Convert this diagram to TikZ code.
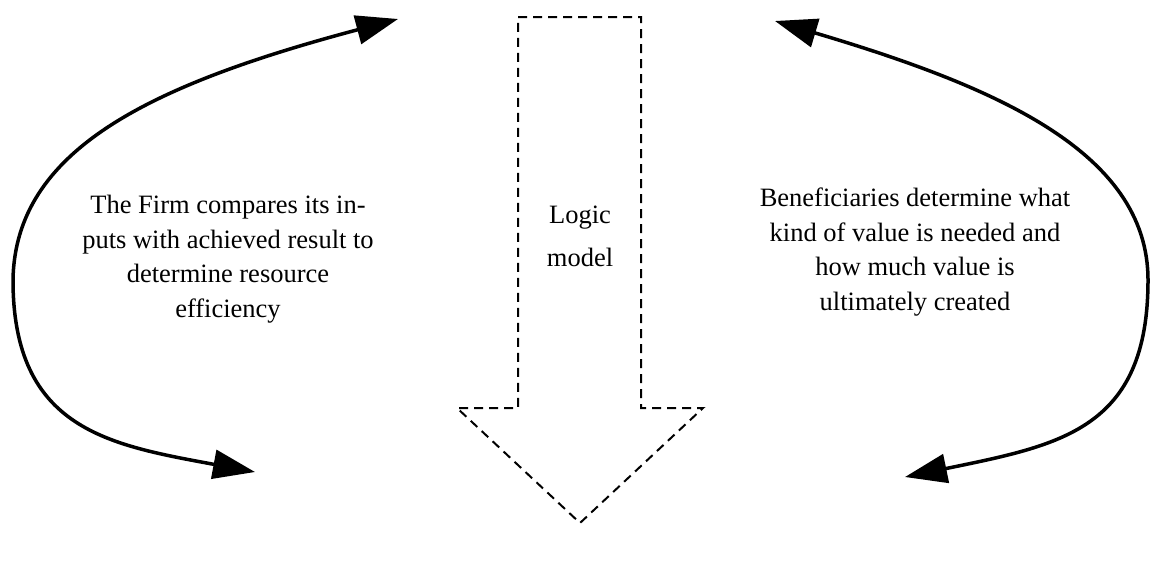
\documentclass[tikz,border=0pt]{standalone}
\usepackage{fontspec}
\setmainfont{Liberation Serif}
\usetikzlibrary{arrows.meta}

\begin{document}
\begin{tikzpicture}[x=1pt, y=-1pt,
    loop arrow/.style={line width=3.5pt,
      {Triangle[length=42pt,width=29pt]}-{Triangle[length=42pt,width=29pt]}},
    note/.style={align=center, font=\fontsize{26.5}{34.5}\selectfont},
    logic arrow/.style={line width=2pt, dash pattern=on 9pt off 6pt}]
  \useasboundingbox (0,0) rectangle (1156,560);

  % arrow ends
  \coordinate (lt) at (398,19);
  \coordinate (lm) at (13,280);
  \coordinate (lb) at (255,472);
  \coordinate (rt) at (775,21);
  \coordinate (rm) at (1148,280);
  \coordinate (rb) at (905,477);

  % logic model arrow
  \draw[logic arrow] (518,17) -- (641,17) -- (641,408) -- (703,408)
    -- (580,523) -- (457,408) -- (518,408) -- cycle;
  \node[note, font=\fontsize{26.5}{43}\selectfont] (logic) at (580,236) {Logic\\model};

  % texts
  \node[note] (firm) at (228,259) {The Firm compares its in-\\puts with achieved result to\\determine resource\\efficiency};
  \node[note] (benef) at (915,252) {Beneficiaries determine what\\kind of value is needed and\\how much value is\\ultimately created};

  % loops
  \draw[loop arrow] (lt) .. controls (150,85) and (15,150) .. (lm)
    .. controls (13,430) and (110,445) .. (lb);
  \draw[loop arrow] (rt) .. controls (990,85) and (1148,150) .. (rm)
    .. controls (1148,430) and (1060,445) .. (rb);
\end{tikzpicture}
\end{document}
